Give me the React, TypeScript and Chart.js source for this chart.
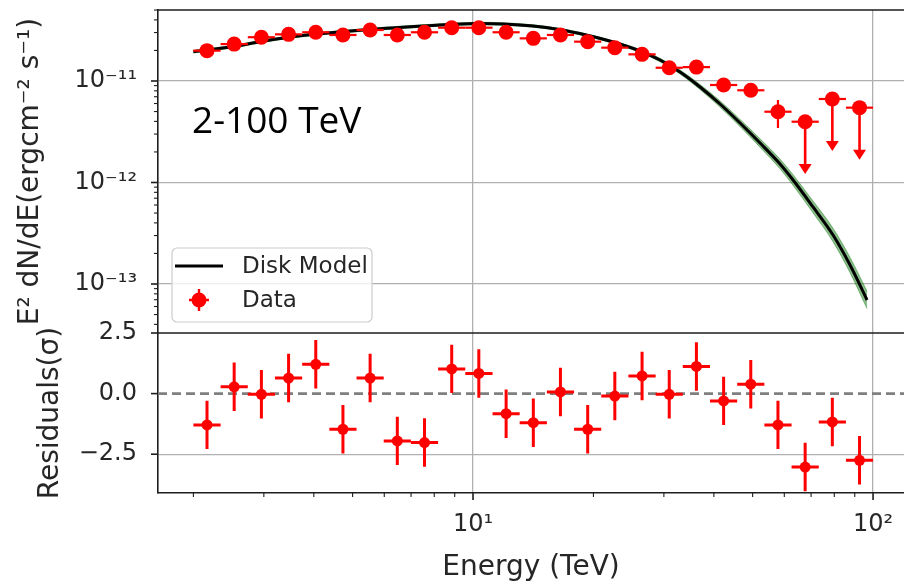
import React, { useEffect, useRef } from 'react';
import { Chart, registerables } from 'chart.js';

Chart.register(...registerables);

// ---------- data ----------
const energies = [2.163, 2.529, 2.958, 3.459, 4.045, 4.730, 5.531, 6.468, 7.564, 8.846, 10.34, 12.10, 14.15, 16.54, 19.35, 22.62, 26.46, 30.94, 36.18, 42.31, 49.47, 57.85, 67.65, 79.11, 92.51];
const binEdges = [2.0, 2.339, 2.735, 3.198, 3.740, 4.374, 5.115, 5.981, 6.995, 8.180, 9.565, 11.19, 13.08, 15.30, 17.89, 20.92, 24.46, 28.61, 33.45, 39.12, 45.75, 53.50, 62.56, 73.16, 85.55, 100.0];
const flux = [1.99e-11, 2.31e-11, 2.70e-11, 2.88e-11, 3.02e-11, 2.84e-11, 3.18e-11, 2.84e-11, 3.02e-11, 3.35e-11, 3.35e-11, 3.02e-11, 2.63e-11, 2.84e-11, 2.44e-11, 2.13e-11, 1.83e-11, 1.35e-11, 1.37e-11, 9.13e-12, 8.10e-12, 4.98e-12, 3.97e-12, 6.65e-12, 5.46e-12];
const fluxErrUp = [0.06e-11, 0.07e-11, 0.08e-11, 0.08e-11, 0.09e-11, 0.09e-11, 0.10e-11, 0.09e-11, 0.10e-11, 0.11e-11, 0.11e-11, 0.10e-11, 0.09e-11, 0.10e-11, 0.09e-11, 0.08e-11, 0.08e-11, 0.07e-11, 0.08e-11, 0.07e-11, 0.08e-11, 1.52e-12, 0, 0, 0];
const fluxErrDown = [0.06e-11, 0.07e-11, 0.08e-11, 0.08e-11, 0.09e-11, 0.09e-11, 0.10e-11, 0.09e-11, 0.10e-11, 0.11e-11, 0.11e-11, 0.10e-11, 0.09e-11, 0.10e-11, 0.09e-11, 0.08e-11, 0.08e-11, 0.07e-11, 0.08e-11, 0.07e-11, 0.08e-11, 1.54e-12, 0, 0, 0];
const isUpperLimit = [false, false, false, false, false, false, false, false, false, false, false, false, false, false, false, false, false, false, false, false, false, false, true, true, true];
const upperLimitArrowTo = [0, 0, 0, 0, 0, 0, 0, 0, 0, 0, 0, 0, 0, 0, 0, 0, 0, 0, 0, 0, 0, 0, 1.24e-12, 2.09e-12, 1.71e-12];

const residuals = [-1.29, 0.28, -0.03, 0.64, 1.21, -1.47, 0.64, -1.95, -2.02, 1.02, 0.83, -0.83, -1.20, 0.07, -1.47, -0.10, 0.73, -0.03, 1.12, -0.30, 0.39, -1.29, -3.03, -1.17, -2.75];
const residualErr = [1, 1, 1, 1, 1, 1, 1, 1, 1, 1, 1, 1, 1, 1, 1, 1, 1, 1, 1, 1, 1, 1, 1, 1, 1];

const modelEnergy = [2.0, 2.527, 2.951, 3.428, 4.004, 5.526, 7.499, 8.760, 10.41, 11.89, 14.13, 16.41, 19.16, 22.39, 26.15, 29.34, 32.92, 36.94, 41.45, 46.51, 52.18, 58.55, 63.10, 70.79, 79.43, 87.60, 96.61];
const modelFlux = [1.944e-11, 2.188e-11, 2.449e-11, 2.683e-11, 2.884e-11, 3.216e-11, 3.482e-11, 3.603e-11, 3.685e-11, 3.644e-11, 3.482e-11, 3.216e-11, 2.839e-11, 2.421e-11, 1.975e-11, 1.610e-11, 1.227e-11, 8.727e-12, 5.934e-12, 3.856e-12, 2.449e-12, 1.521e-12, 1.058e-12, 5.738e-13, 3.039e-13, 1.538e-13, 6.959e-14];
const modelBandHigh = [1.998e-11, 2.249e-11, 2.518e-11, 2.758e-11, 2.965e-11, 3.306e-11, 3.579e-11, 3.704e-11, 3.788e-11, 3.746e-11, 3.579e-11, 3.306e-11, 2.918e-11, 2.489e-11, 2.040e-11, 1.674e-11, 1.285e-11, 9.245e-12, 6.358e-12, 4.180e-12, 2.691e-12, 1.695e-12, 1.193e-12, 6.558e-13, 3.538e-13, 1.828e-13, 8.464e-14];
const modelBandLow = [1.891e-11, 2.128e-11, 2.382e-11, 2.610e-11, 2.805e-11, 3.128e-11, 3.387e-11, 3.505e-11, 3.585e-11, 3.545e-11, 3.387e-11, 3.128e-11, 2.762e-11, 2.355e-11, 1.912e-11, 1.548e-11, 1.172e-11, 8.239e-12, 5.538e-12, 3.558e-12, 2.228e-12, 1.365e-12, 9.386e-13, 5.021e-13, 2.611e-13, 1.294e-13, 5.722e-14];

// ---------- ticks ----------
const xMajorTicks = [10, 100];
const xMajorLabels = ['10\u00B9', '10\u00B2'];
const yMajorTicks = [1e-13, 1e-12, 1e-11];
const yMajorLabels = ['10\u207B\u00B9\u00B3', '10\u207B\u00B9\u00B2', '10\u207B\u00B9\u00B9'];
const resTicks = [-2.5, 0, 2.5];
const resTickLabels = ['\u22122.5', '0.0', '2.5'];

const X_MIN = 1.6313;
const X_MAX = 119.5;
const Y_MIN = 3.29e-14;
const Y_MAX = 5.005e-11;
const R_MIN = -4.1;
const R_MAX = 2.5;

const FONT = '"DejaVu Sans", sans-serif';
const TEXT = '#262626';
const AXIS = '#1e1e1e';
const GRID = '#b0b0b0';
const RED = '#ff0000';

function minorTicks(lo: number, hi: number) {
  const out: number[] = [];
  for (let e = Math.floor(Math.log10(lo)); e <= Math.ceil(Math.log10(hi)); e++) {
    for (let m = 1; m <= 9; m++) {
      const v = m * Math.pow(10, e);
      if (v >= lo * 0.9999 && v <= hi * 1.0001) out.push(Number(v.toPrecision(6)));
    }
  }
  return out;
}
const xAllTicks = minorTicks(X_MIN, X_MAX);
const yAllTicks = minorTicks(Y_MIN, Y_MAX);
const same = (m: number, v: number) => (m === 0 ? Math.abs(v) < 1e-9 : Math.abs(m - v) <= Math.abs(m) * 1e-6);
const isMajorOf = (list: number[], v: number) => list.some((m) => same(m, v));
const labelOf = (list: number[], labels: string[], v: number) => {
  const i = list.findIndex((m) => same(m, v));
  return i >= 0 ? labels[i] : '';
};

const decorPlugin = {
  id: 'decor',
  beforeDatasetDraw(chart: any, args: any) {
    const ds = chart.data.datasets[args.index];
    const { ctx, scales } = chart;
    const x = scales.x;
    if (ds.errKind === 'flux') {
      const y = scales.y;
      ctx.save();
      ctx.strokeStyle = RED;
      ctx.fillStyle = RED;
      ctx.lineWidth = 2.2;
      for (let i = 0; i < energies.length; i++) {
        const py = y.getPixelForValue(flux[i]);
        const xl = x.getPixelForValue(binEdges[i]);
        const xr = x.getPixelForValue(binEdges[i + 1]);
        const px = x.getPixelForValue(energies[i]);
        ctx.beginPath();
        ctx.moveTo(xl, py);
        ctx.lineTo(xr, py);
        ctx.stroke();
        if (isUpperLimit[i]) {
          const tip = y.getPixelForValue(upperLimitArrowTo[i]);
          ctx.lineWidth = 2.6;
          ctx.beginPath();
          ctx.moveTo(px, py);
          ctx.lineTo(px, tip - 6);
          ctx.stroke();
          ctx.beginPath();
          ctx.moveTo(px - 6.5, tip - 9);
          ctx.lineTo(px + 6.5, tip - 9);
          ctx.lineTo(px, tip + 1);
          ctx.closePath();
          ctx.fill();
          ctx.lineWidth = 2.2;
        } else {
          ctx.beginPath();
          ctx.moveTo(px, y.getPixelForValue(flux[i] + fluxErrUp[i]));
          ctx.lineTo(px, y.getPixelForValue(flux[i] - fluxErrDown[i]));
          ctx.stroke();
        }
      }
      ctx.restore();
    } else if (ds.errKind === 'res') {
      const yr = scales.yr;
      ctx.save();
      ctx.strokeStyle = RED;
      ctx.lineWidth = 3;
      for (let i = 0; i < energies.length; i++) {
        const py = yr.getPixelForValue(residuals[i]);
        const px = x.getPixelForValue(energies[i]);
        ctx.beginPath();
        ctx.moveTo(x.getPixelForValue(binEdges[i]), py);
        ctx.lineTo(x.getPixelForValue(binEdges[i + 1]), py);
        ctx.moveTo(px, yr.getPixelForValue(residuals[i] + residualErr[i]));
        ctx.lineTo(px, yr.getPixelForValue(residuals[i] - residualErr[i]));
        ctx.stroke();
      }
      ctx.restore();
    }
  },
  afterDraw(chart: any) {
    const { ctx, chartArea: ca, scales } = chart;
    const x = scales.x, y = scales.y, yr = scales.yr;
    ctx.save();
    ctx.strokeStyle = AXIS;
    ctx.lineWidth = 1.6;
    ctx.beginPath();
    ctx.moveTo(ca.left, ca.top);
    ctx.lineTo(ca.right, ca.top);
    ctx.moveTo(ca.left, yr.top);
    ctx.lineTo(ca.right, yr.top);
    ctx.stroke();
    const tick = (x1: number, y1: number, x2: number, y2: number, w: number) => {
      ctx.lineWidth = w;
      ctx.beginPath();
      ctx.moveTo(x1, y1);
      ctx.lineTo(x2, y2);
      ctx.stroke();
    };
    xAllTicks.forEach((v) => {
      const px = x.getPixelForValue(v);
      const major = isMajorOf(xMajorTicks, v);
      tick(px, ca.bottom, px, ca.bottom + (major ? 7 : 4), major ? 1.6 : 1.1);
    });
    yAllTicks.forEach((v) => {
      const py = y.getPixelForValue(v);
      const major = isMajorOf(yMajorTicks, v);
      tick(ca.left - (major ? 7 : 4), py, ca.left, py, major ? 1.6 : 1.1);
    });
    resTicks.forEach((v) => {
      const py = yr.getPixelForValue(v);
      tick(ca.left - 7, py, ca.left, py, 1.6);
    });

    // legend
    const lx = ca.left + 14;
    const ly = ca.top + 238;
    ctx.fillStyle = 'rgba(255,255,255,0.8)';
    ctx.strokeStyle = '#cccccc';
    ctx.lineWidth = 1.2;
    ctx.beginPath();
    (ctx as any).roundRect(lx, ly, 200, 74, 5);
    ctx.fill();
    ctx.stroke();
    const modelDs = chart.data.datasets[2];
    const dataDs = chart.data.datasets[0];
    const row1 = ly + 18;
    const row2 = ly + 52;
    ctx.strokeStyle = '#000';
    ctx.lineWidth = 3;
    ctx.beginPath();
    ctx.moveTo(lx + 3, row1);
    ctx.lineTo(lx + 51, row1);
    ctx.stroke();
    ctx.strokeStyle = RED;
    ctx.fillStyle = RED;
    ctx.lineWidth = 2.4;
    const mx = lx + 27;
    ctx.beginPath();
    ctx.moveTo(mx, row2 - 11);
    ctx.lineTo(mx, row2 + 11);
    ctx.moveTo(mx - 10, row2);
    ctx.lineTo(mx + 10, row2);
    ctx.stroke();
    ctx.beginPath();
    ctx.arc(mx, row2, 7.5, 0, Math.PI * 2);
    ctx.fill();
    ctx.fillStyle = TEXT;
    ctx.font = '23px ' + FONT;
    ctx.textBaseline = 'middle';
    ctx.textAlign = 'left';
    ctx.fillText(modelDs.label, lx + 70, row1 + 1);
    ctx.fillText(dataDs.label, lx + 70, row2 + 1);

    // annotation
    ctx.fillStyle = '#000';
    ctx.font = '37px "Open Sans", sans-serif';
    ctx.textBaseline = 'alphabetic';
    ctx.fillText('2-100 TeV', ca.left + 34, ca.top + 123);
    ctx.restore();
  },
};

export default function App() {
  const ref = useRef<HTMLCanvasElement>(null);
  useEffect(() => {
    const canvas = ref.current!;
    const chart = new Chart(canvas, {
      type: 'scatter',
      data: {
        datasets: [
          {
            type: 'scatter',
            label: 'Data',
            data: energies.map((e, i) => ({ x: e, y: flux[i] })),
            yAxisID: 'y',
            backgroundColor: RED,
            borderWidth: 0,
            pointRadius: 7.5,
            order: 0,
            errKind: 'flux',
          } as any,
          {
            type: 'scatter',
            label: 'Residuals',
            data: energies.map((e, i) => ({ x: e, y: residuals[i] })),
            yAxisID: 'yr',
            backgroundColor: RED,
            borderWidth: 0,
            pointRadius: 5.5,
            order: 0,
            errKind: 'res',
          } as any,
          {
            type: 'line',
            label: 'Disk Model',
            data: modelEnergy.map((e, i) => ({ x: e, y: modelFlux[i] })),
            yAxisID: 'y',
            borderColor: '#000000',
            borderWidth: 3,
            pointRadius: 0,
            cubicInterpolationMode: 'monotone',
            fill: false,
            order: 1,
          } as any,
          {
            type: 'line',
            label: 'Model band high',
            data: modelEnergy.map((e, i) => ({ x: e, y: modelBandHigh[i] })),
            yAxisID: 'y',
            borderColor: 'rgba(46,139,46,0.55)',
            backgroundColor: 'rgba(46,139,46,0.55)',
            borderWidth: 1,
            pointRadius: 0,
            cubicInterpolationMode: 'monotone',
            fill: '+1',
            order: 2,
          } as any,
          {
            type: 'line',
            label: 'Model band low',
            data: modelEnergy.map((e, i) => ({ x: e, y: modelBandLow[i] })),
            yAxisID: 'y',
            borderColor: 'rgba(46,139,46,0.55)',
            borderWidth: 1,
            pointRadius: 0,
            cubicInterpolationMode: 'monotone',
            fill: false,
            order: 2,
          } as any,
          {
            type: 'line',
            label: 'Zero',
            data: [{ x: X_MIN, y: 0 }, { x: X_MAX, y: 0 }],
            yAxisID: 'yr',
            borderColor: '#7f7f7f',
            borderWidth: 2.6,
            borderDash: [9, 5],
            pointRadius: 0,
            fill: false,
            order: 3,
          } as any,
        ],
      },
      options: {
        responsive: false,
        animation: false,
        devicePixelRatio: 1,
        layout: { autoPadding: false, padding: { left: 0, right: 0, top: 10, bottom: 0 } },
        plugins: { legend: { display: false }, tooltip: { enabled: false } },
        scales: {
          x: {
            type: 'logarithmic',
            position: 'bottom',
            min: X_MIN,
            max: X_MAX,
            bounds: 'data',
            afterBuildTicks: (s: any) => {
              s.ticks = xAllTicks.map((v) => ({ value: v, major: isMajorOf(xMajorTicks, v) }));
            },
            afterFit: (s: any) => {
              s.height = 94;
              s.paddingLeft = 0;
              s.paddingRight = 0;
            },
            ticks: {
              autoSkip: false,
              maxRotation: 0,
              minRotation: 0,
              padding: 17,
              color: TEXT,
              font: { family: FONT, size: 24 },
              callback: (v: any) => labelOf(xMajorTicks, xMajorLabels, Number(v)),
            },
            grid: {
              drawTicks: false,
              color: (c: any) => (c.tick && isMajorOf(xMajorTicks, c.tick.value) ? GRID : 'rgba(0,0,0,0)'),
              lineWidth: 1.3,
            },
            border: { display: true, color: AXIS, width: 1.6 },
            title: {
              display: true,
              text: 'Energy (TeV)',
              color: TEXT,
              font: { family: FONT, size: 28 },
              padding: { top: 0, bottom: 2 },
            },
          },
          yr: {
            type: 'linear',
            position: 'left',
            stack: 'panels',
            stackWeight: 160,
            min: R_MIN,
            max: R_MAX,
            afterBuildTicks: (s: any) => {
              s.ticks = resTicks.map((v) => ({ value: v }));
            },
            afterFit: (s: any) => {
              s.width = 158;
              s.paddingTop = 0;
              s.paddingBottom = 0;
            },
            ticks: {
              autoSkip: false,
              padding: 21,
              color: TEXT,
              font: { family: FONT, size: 24 },
              callback: (v: any) => labelOf(resTicks, resTickLabels, Number(v)),
            },
            grid: {
              drawTicks: false,
              color: (c: any) => (c.tick && c.tick.value === -2.5 ? GRID : 'rgba(0,0,0,0)'),
              lineWidth: 1.3,
            },
            border: { display: true, color: AXIS, width: 1.6 },
            title: {
              display: true,
              text: 'Residuals(\u03C3)',
              color: TEXT,
              font: { family: FONT, size: 28 },
              padding: { top: 34, bottom: 0 },
            },
          },
          y: {
            type: 'logarithmic',
            position: 'left',
            stack: 'panels',
            stackWeight: 323,
            min: Y_MIN,
            max: Y_MAX,
            bounds: 'data',
            afterBuildTicks: (s: any) => {
              s.ticks = yAllTicks.map((v) => ({ value: v, major: isMajorOf(yMajorTicks, v) }));
            },
            afterFit: (s: any) => {
              s.width = 158;
              s.paddingTop = 0;
              s.paddingBottom = 0;
            },
            ticks: {
              autoSkip: false,
              padding: 21,
              color: TEXT,
              font: { family: FONT, size: 24 },
              callback: (v: any) => labelOf(yMajorTicks, yMajorLabels, Number(v)),
            },
            grid: {
              drawTicks: false,
              color: (c: any) => (c.tick && isMajorOf(yMajorTicks, c.tick.value) ? GRID : 'rgba(0,0,0,0)'),
              lineWidth: 1.3,
            },
            border: { display: true, color: AXIS, width: 1.6 },
            title: {
              display: true,
              text: 'E\u00B2 dN/dE(ergcm\u207B\u00B2 s\u207B\u00B9)',
              color: TEXT,
              font: { family: FONT, size: 28 },
              padding: { top: 14, bottom: 0 },
            },
          },
        },
      } as any,
      plugins: [decorPlugin as any],
    });
    return () => chart.destroy();
  }, []);
  return (
    <div style={{ position: 'fixed', left: 0, top: 0, width: 904, height: 587, background: '#ffffff' }}>
      <canvas ref={ref} width={904} height={587} style={{ display: 'block', width: 904, height: 587 }} />
    </div>
  );
}
